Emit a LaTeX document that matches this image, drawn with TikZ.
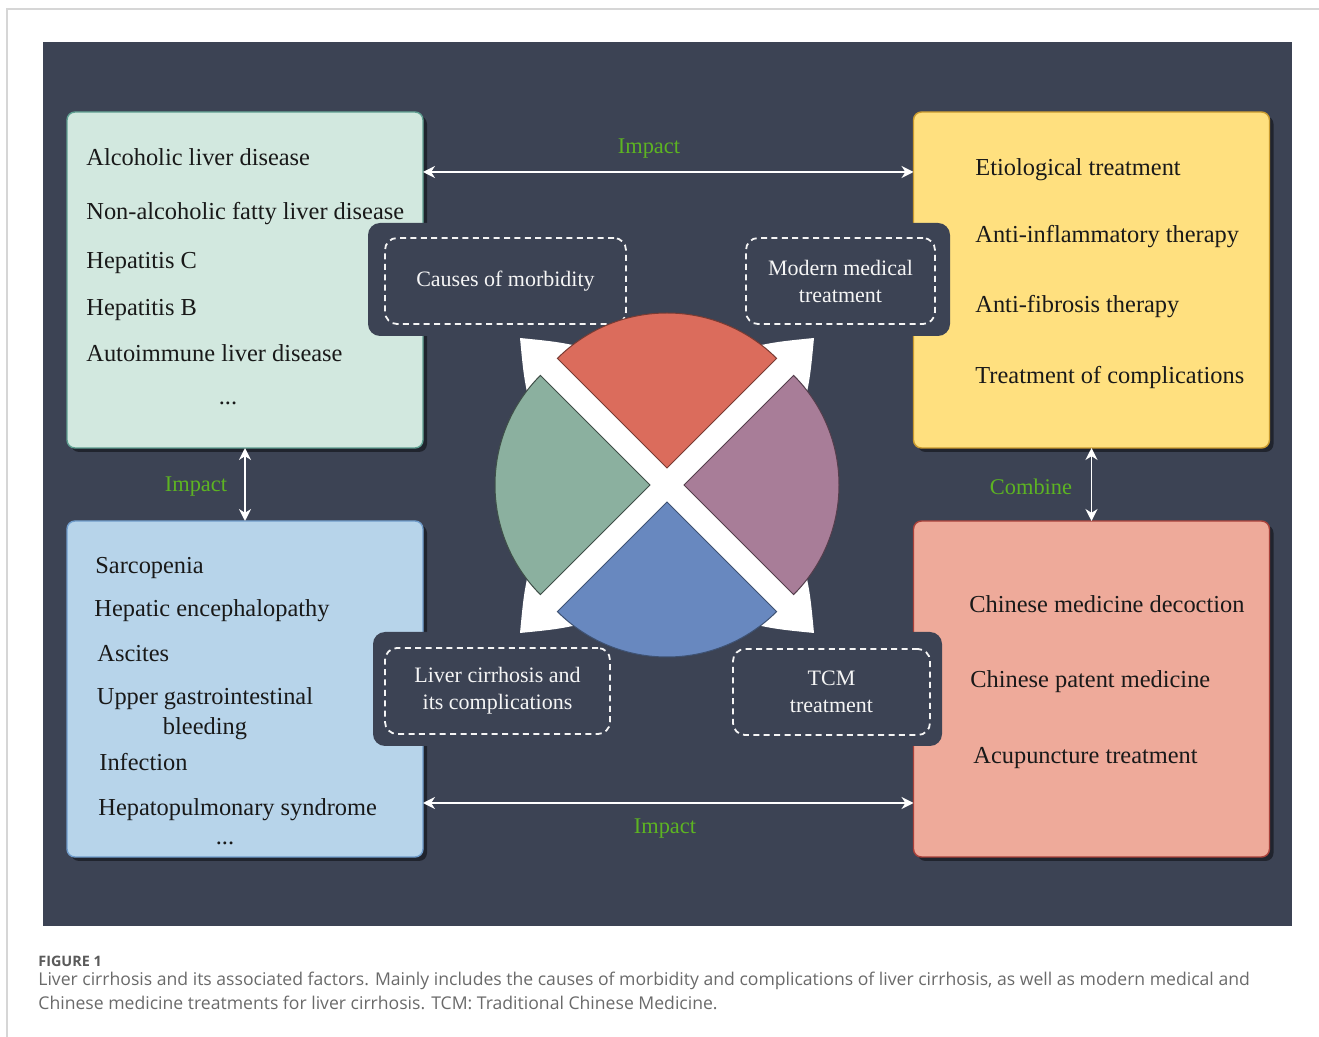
\documentclass[tikz,border=0pt]{standalone}
\usepackage{fontspec}
\setmainfont{Liberation Serif}
\newfontfamily\capfont{Open Sans}
\usetikzlibrary{shadows,arrows.meta}

\definecolor{bgdark}{HTML}{3C4354}
\definecolor{framegray}{HTML}{D6D6D6}
\definecolor{labelgreen}{HTML}{5DB422}
\definecolor{causefill}{HTML}{D2E8DF}
\definecolor{causeline}{HTML}{5E9E90}
\definecolor{modernfill}{HTML}{FFE07F}
\definecolor{modernline}{HTML}{C99A2E}
\definecolor{complfill}{HTML}{B7D4EA}
\definecolor{complline}{HTML}{6F9CCB}
\definecolor{tcmfill}{HTML}{EEAA9A}
\definecolor{tcmline}{HTML}{A8413A}
\definecolor{redsec}{HTML}{DB6C5C}
\definecolor{greensec}{HTML}{8BB09F}
\definecolor{purplesec}{HTML}{A87D98}
\definecolor{bluesec}{HTML}{6888BF}
\definecolor{captext}{HTML}{6A6A6A}

\begin{document}
\begin{tikzpicture}[x=0.5pt,y=-0.5pt,
  panel/.style={rounded corners=4pt, line width=0.7pt, outer sep=0pt,
    minimum width=178pt, minimum height=168pt,
    drop shadow={shadow xshift=2pt, shadow yshift=-2pt, fill=black, opacity=0.45}},
  item/.style={anchor=west, inner sep=0pt, text=black!90,
    font=\fontsize{12.2}{15}\selectfont, text height=11pt, text depth=2pt},
  tag/.style={draw=white!92!gray, dashed, dash pattern=on 3pt off 2.2pt,
    line width=0.9pt, rounded corners=6pt, outer sep=0pt, align=center,
    text=white!92!gray, font=\fontsize{11}{13.5}\selectfont, minimum height=43pt},
  tab/.style={fill=bgdark, rounded corners=6pt},
  link/.style={white, line width=0.9pt, {Stealth[length=6pt,width=6pt]}-{Stealth[length=6pt,width=6pt]}},
  linklabel/.style={text=labelgreen, font=\fontsize{11.2}{13}\selectfont, inner sep=0pt},
  sector/.style={line width=0.5pt}]

\useasboundingbox (0,0) rectangle (1319,1037);
\fill[white] (0,0) rectangle (1319,1037);
\draw[framegray, line width=0.8pt] (7,1037) -- (7,9) -- (1319,9);
\fill[bgdark] (43,42) rectangle (1292,926);

% four panels
\node[panel, fill=causefill, draw=causeline] (causes) at (245,280) {};
\node[panel, fill=modernfill, draw=modernline] (modern) at (1091.5,280) {};
\node[panel, fill=complfill, draw=complline] (compl) at (245,689) {};
\node[panel, fill=tcmfill, draw=tcmline] (tcm) at (1091.5,689) {};

% causes
\node[item] (alc) at (86,157) {Alcoholic liver disease};
\node[item] (nafld) at (86,211) {Non-alcoholic fatty liver disease};
\node[item] (hepc) at (86,260) {Hepatitis C};
\node[item] (hepb) at (86,307) {Hepatitis B};
\node[item] (aild) at (86,353) {Autoimmune liver disease};
\node[item, anchor=center] (causedots) at (228,396) {...};

% modern treatment
\node[item] (etio) at (975,167) {Etiological treatment};
\node[item] (antiinf) at (975,234) {Anti-inflammatory therapy};
\node[item] (antifib) at (975,304) {Anti-fibrosis therapy};
\node[item] (treatcompl) at (975,375) {Treatment of complications};

% complications
\node[item] (sarco) at (95,565) {Sarcopenia};
\node[item] (he) at (94,608) {Hepatic encephalopathy};
\node[item] (ascites) at (97,653) {Ascites};
\node[align=center, inner sep=0pt, text=black!90,
  font=\fontsize{12.2}{15}\selectfont] (ugib) at (205,714) {Upper gastrointestinal\\bleeding};
\node[item] (infect) at (99,762) {Infection};
\node[item] (hps) at (98,806) {Hepatopulmonary syndrome};
\node[item, anchor=center] (compldots) at (225,836) {...};

% tcm treatment
\node[item] (decoct) at (969,604) {Chinese medicine decoction};
\node[item] (patent) at (970,679) {Chinese patent medicine};
\node[item] (acup) at (973,755) {Acupuncture treatment};

% dark tabs with the dashed tags
\fill[tab] (368,223) rectangle (640,336);
\fill[tab] (700,223) rectangle (950,336);
\fill[tab] (373,632) rectangle (640,746);
\fill[tab] (700,632) rectangle (942,746);

\node[tag, minimum width=120.5pt] (causetag) at (505.5,281) {Causes of morbidity};
\node[tag, minimum width=94.5pt] (moderntag) at (840.5,281) {Modern medical\\treatment};
\node[tag, minimum width=112.5pt] (compltag) at (497.5,691) {Liver cirrhosis and\\its complications};
\node[tag, minimum width=98.5pt] (tcmtag) at (831.5,692) {TCM\\treatment};

% links
\draw[link] (causes.east |- 0,172) -- (modern.west |- 0,172);
\draw[link] (compl.east |- 0,803) -- (tcm.west |- 0,803);
\draw[link] (causes.south) -- (compl.north);
\draw[link] (modern.south) -- (tcm.north);
\node[linklabel] (impacttop) at (649,149) {Impact};
\node[linklabel] (impactbottom) at (665,829) {Impact};
\node[linklabel] (impactleft) at (196,487) {Impact};
\node[linklabel] (combine) at (1031,487) {Combine};

% centre: white cross of arrows
\draw[white, line width=13pt] (545,363) -- (789,607);
\draw[white, line width=13pt] (789,363) -- (545,607);
\fill[white] (520,338) .. controls (560,342) .. (605,352) -- (534,423) .. controls (524,380) .. cycle;
\fill[white] (814,338) .. controls (774,342) .. (729,352) -- (800,423) .. controls (810,380) .. cycle;
\fill[white] (520,633) .. controls (560,629) .. (605,619) -- (534,548) .. controls (524,591) .. cycle;
\fill[white] (814,633) .. controls (774,629) .. (729,619) -- (800,548) .. controls (810,591) .. cycle;

% centre: four sectors
\filldraw[sector, fill=redsec, draw=redsec!55!black] (667,468) -- ++(225:155) arc[start angle=225, end angle=315, radius=155] -- cycle;
\filldraw[sector, fill=purplesec, draw=purplesec!50!black] (684,485) -- ++(-45:155) arc[start angle=-45, end angle=45, radius=155] -- cycle;
\filldraw[sector, fill=bluesec, draw=bluesec!60!black] (667,502) -- ++(45:155) arc[start angle=45, end angle=135, radius=155] -- cycle;
\filldraw[sector, fill=greensec, draw=greensec!45!black] (650,485) -- ++(135:155) arc[start angle=135, end angle=225, radius=155] -- cycle;

% caption
\node[anchor=west, inner sep=0pt, text=captext!85!black, font=\capfont\bfseries\fontsize{7.2}{8}\selectfont] (figlabel) at (38,961) {FIGURE 1};
\node[anchor=west, inner sep=0pt, text=captext, font=\capfont\fontsize{8.8}{11}\selectfont] (capline1) at (38,981) {Liver cirrhosis and its associated factors. Mainly includes the causes of morbidity and complications of liver cirrhosis, as well as modern medical and};
\node[anchor=west, inner sep=0pt, text=captext, font=\capfont\fontsize{8.8}{11}\selectfont] (capline2) at (38,1003) {Chinese medicine treatments for liver cirrhosis. TCM: Traditional Chinese Medicine.};
\end{tikzpicture}
\end{document}
